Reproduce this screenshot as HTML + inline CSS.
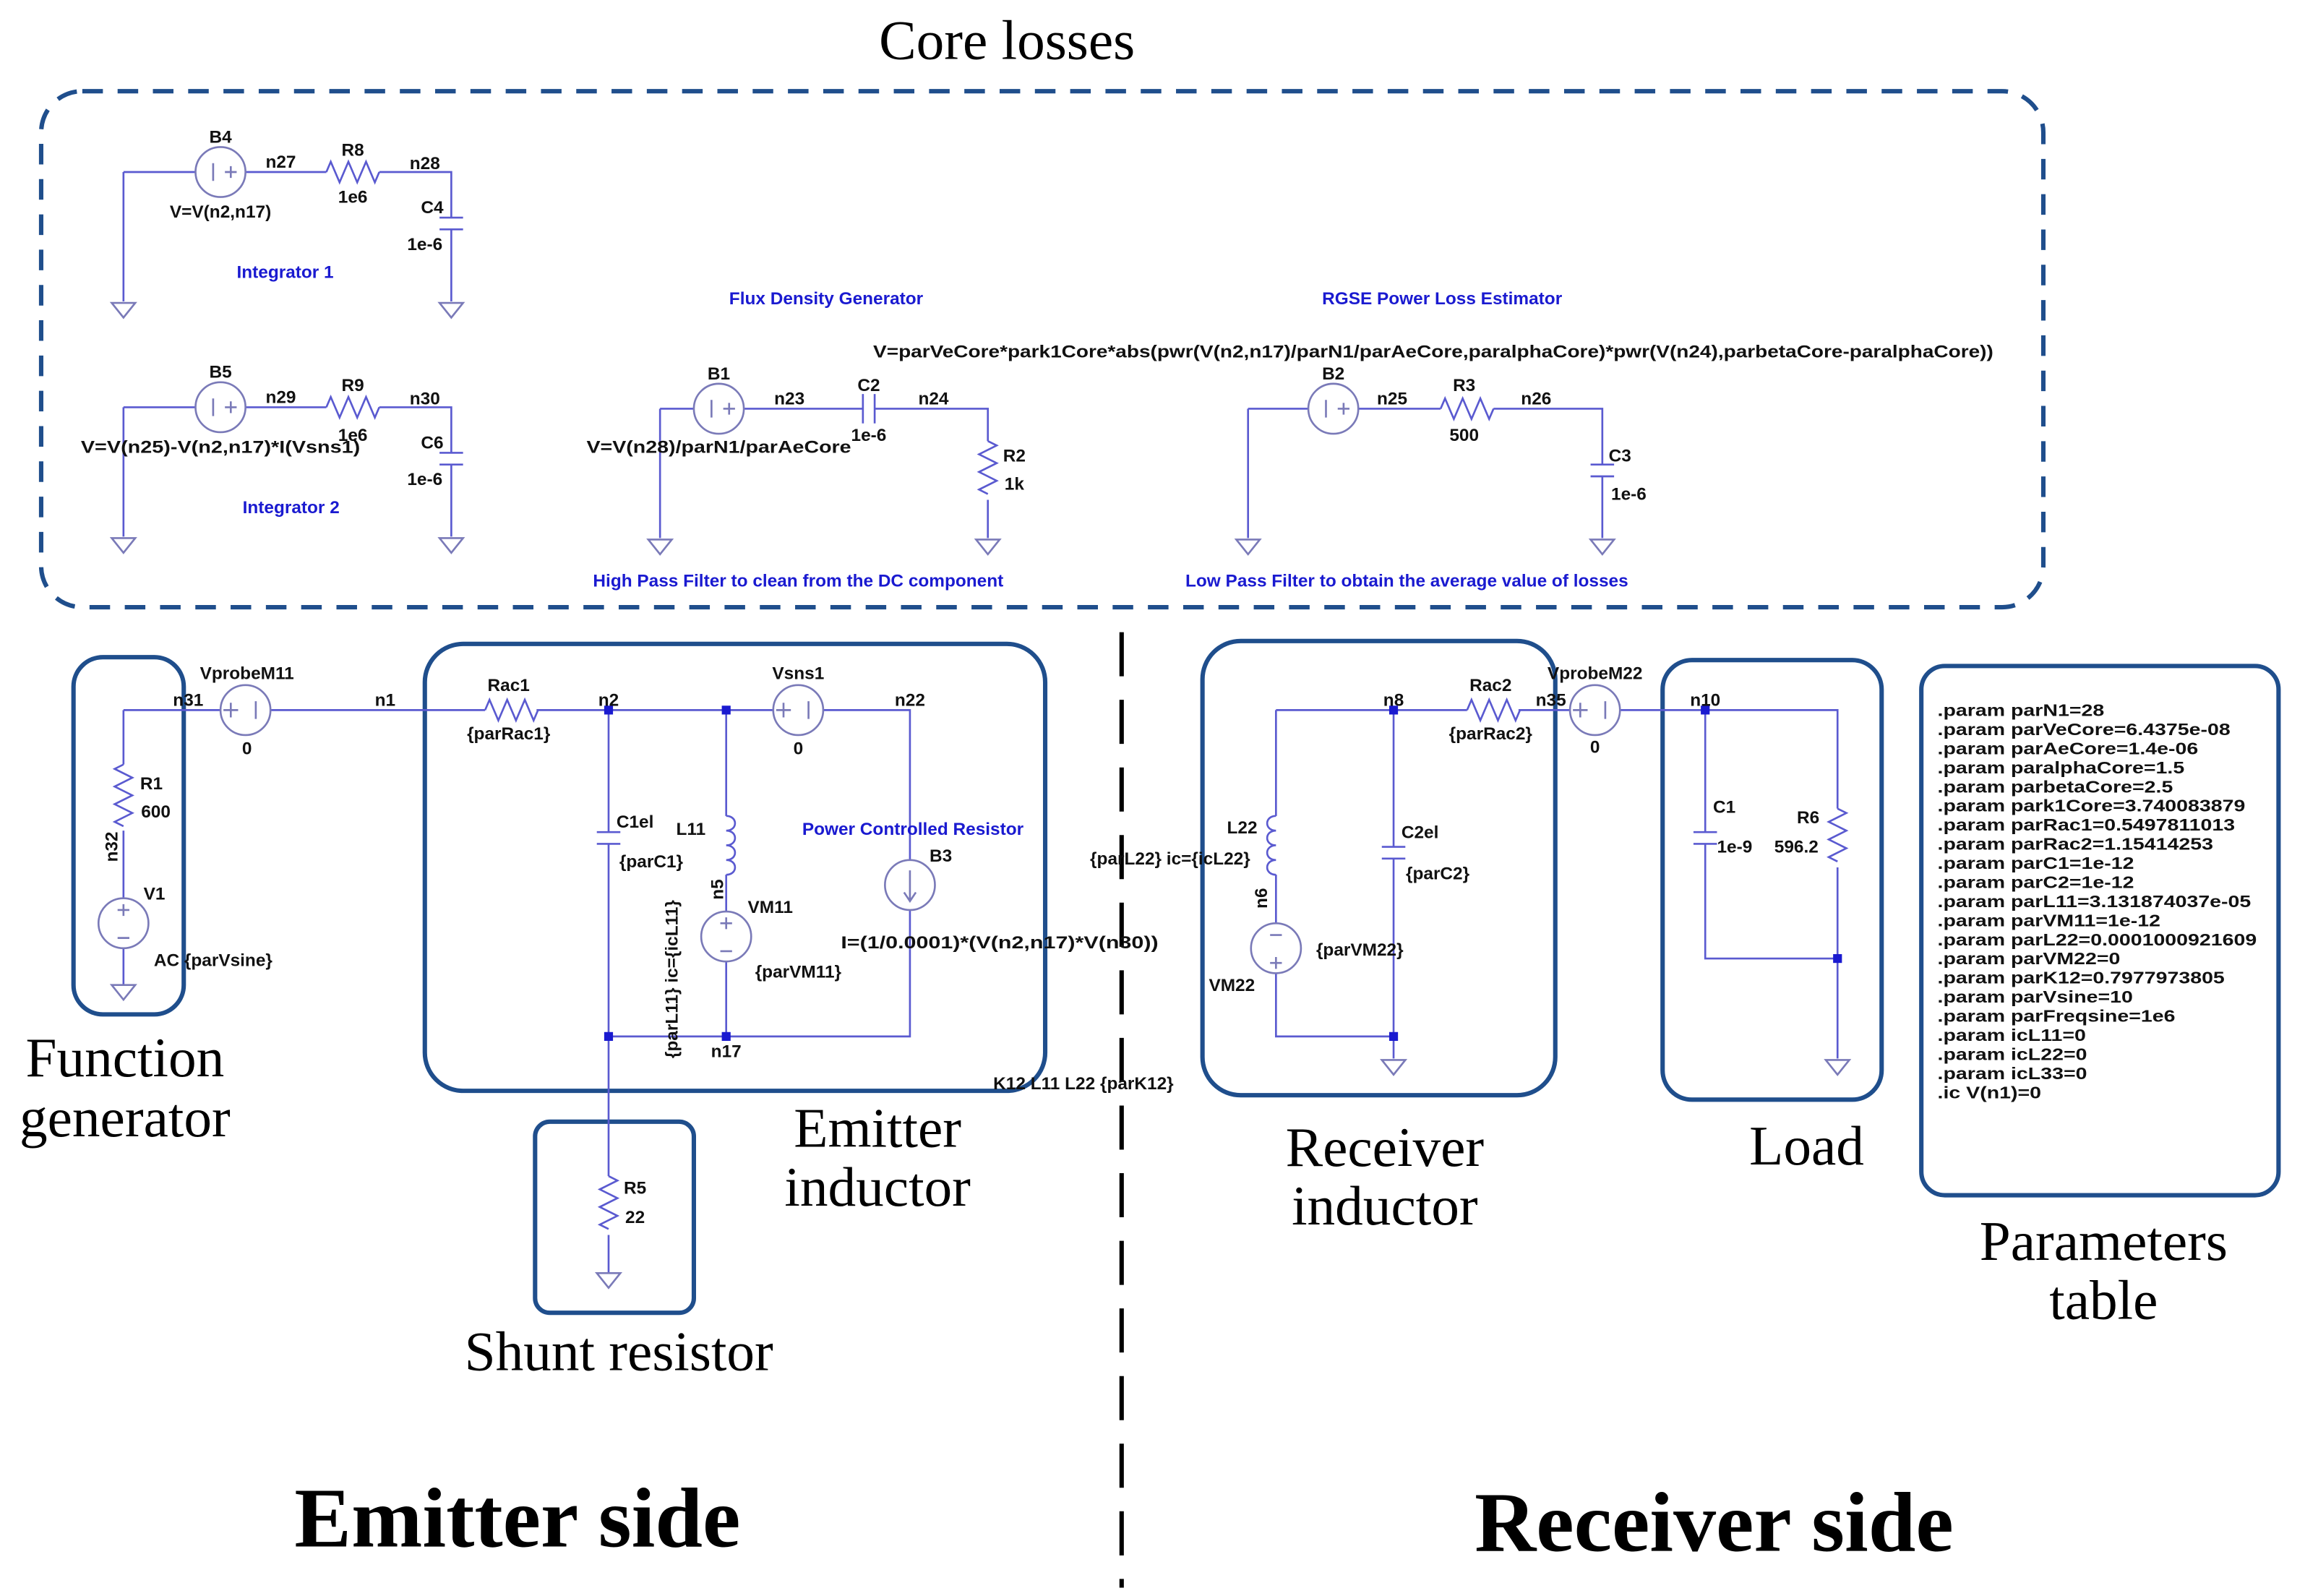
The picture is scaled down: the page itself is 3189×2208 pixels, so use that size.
<!DOCTYPE html>
<html><head><meta charset="utf-8"><style>
html,body{margin:0;padding:0;background:#fff;}
svg{display:block}
.t{font-family:"Liberation Sans",sans-serif;font-size:12px;font-weight:bold;fill:#111;text-anchor:middle}
.b{fill:#1a1ad0}
.p{font-family:"Liberation Sans",sans-serif;font-size:11.5px;font-weight:bold;fill:#111}
.s{font-family:"Liberation Serif",serif;font-size:38px;fill:#000;text-anchor:middle}
.w{stroke:#5a5ad0;stroke-width:1.3;fill:none}
.c{stroke:#7a7ab8;stroke-width:1.3;fill:#fff}
.box{stroke:#1f4e8c;stroke-width:3;fill:none}
</style></head><body>
<svg width="3189" height="2208" viewBox="0 0 1568 1085.6" xmlns="http://www.w3.org/2000/svg">
<defs>
<g id="gnd"><path class="c" d="M-8 0 H8 L0 10 Z"/></g>
<g id="vs"><circle class="c" r="17"/><path class="c" d="M-5 -6V6M7 -4V4M3 0H11" fill="none"/></g>
</defs>
<text class="s" x="685" y="40">Core losses</text>
<rect x="28" y="62" width="1362" height="351" rx="28" fill="none" stroke="#1f4e8c" stroke-width="3" stroke-dasharray="14 10"/>

<!-- Integrator 1 -->
<g>
<path class="w" d="M84 117V205M84 117H133M167 117H222M258 117H307V148M307 156V205"/>
<path class="w" d="M222 117l3 -7 6 14 6 -14 6 14 6 -14 6 14 3 -7"/>
<path class="w" d="M299 148H315M299 156H315"/>
<use href="#vs" x="150" y="117"/>
<use href="#gnd" x="84" y="206"/><use href="#gnd" x="307" y="206"/>
<text class="t" x="150" y="97">B4</text><text class="t" x="191" y="114">n27</text>
<text class="t" x="240" y="106">R8</text><text class="t" x="289" y="115">n28</text>
<text class="t" x="150" y="148">V=V(n2,n17)</text><text class="t" x="240" y="138">1e6</text>
<text class="t" x="294" y="145">C4</text><text class="t" x="289" y="170">1e-6</text>
<text class="t b" x="194" y="189">Integrator 1</text>
</g>
<!-- Integrator 2 -->
<g transform="translate(0,160)">
<path class="w" d="M84 117V205M84 117H133M167 117H222M258 117H307V148M307 156V205"/>
<path class="w" d="M222 117l3 -7 6 14 6 -14 6 14 6 -14 6 14 3 -7"/>
<path class="w" d="M299 148H315M299 156H315"/>
<use href="#vs" x="150" y="117"/>
<use href="#gnd" x="84" y="206"/><use href="#gnd" x="307" y="206"/>
<text class="t" x="150" y="97">B5</text><text class="t" x="191" y="114">n29</text>
<text class="t" x="240" y="106">R9</text><text class="t" x="289" y="115">n30</text>
<text class="t" x="150" y="148" textLength="190" lengthAdjust="spacingAndGlyphs">V=V(n25)-V(n2,n17)*I(Vsns1)</text><text class="t" x="240" y="140">1e6</text>
<text class="t" x="294" y="145">C6</text><text class="t" x="289" y="170">1e-6</text>
<text class="t b" x="198" y="189">Integrator 2</text>
</g>
<!-- Flux density -->
<text class="t b" x="562" y="207">Flux Density Generator</text>
<path class="w" d="M449 278V366M449 278H472M506 278H587M595 278H672V300M672 340V366"/>
<path class="w" d="M587 268V288M595 268V288"/>
<path class="w" d="M672 300l6 3 -12 6 12 6 -12 6 12 6 -12 6 6 3"/>
<use href="#vs" x="489" y="278"/>
<use href="#gnd" x="449" y="367"/><use href="#gnd" x="672" y="367"/>
<text class="t" x="489" y="258">B1</text><text class="t" x="537" y="275">n23</text>
<text class="t" x="591" y="266">C2</text><text class="t" x="635" y="275">n24</text>
<text class="t" x="591" y="300">1e-6</text><text class="t" x="489" y="308" textLength="180" lengthAdjust="spacingAndGlyphs">V=V(n28)/parN1/parAeCore</text>
<text class="t" x="690" y="314">R2</text><text class="t" x="690" y="333">1k</text>
<text class="t b" x="543" y="399">High Pass Filter to clean from the DC component</text>
<!-- RGSE -->
<text class="t b" x="981" y="207">RGSE Power Loss Estimator</text>
<text class="t" x="975" y="243" textLength="762" lengthAdjust="spacingAndGlyphs">V=parVeCore*park1Core*abs(pwr(V(n2,n17)/parN1/parAeCore,paralphaCore)*pwr(V(n24),parbetaCore-paralphaCore))</text>
<path class="w" d="M849 278V366M849 278H890M924 278H980M1016 278H1090V316M1090 324V366"/>
<path class="w" d="M980 278l3 -7 6 14 6 -14 6 14 6 -14 6 14 3 -7"/>
<path class="w" d="M1082 316H1098M1082 324H1098"/>
<use href="#vs" x="907" y="278"/>
<use href="#gnd" x="849" y="367"/><use href="#gnd" x="1090" y="367"/>
<text class="t" x="907" y="258">B2</text><text class="t" x="947" y="275">n25</text>
<text class="t" x="996" y="266">R3</text><text class="t" x="1045" y="275">n26</text>
<text class="t" x="996" y="300">500</text><text class="t" x="1102" y="314">C3</text><text class="t" x="1108" y="340">1e-6</text>
<text class="t b" x="957" y="399">Low Pass Filter to obtain the average value of losses</text>

<!-- divider -->
<path d="M763 430V1080" stroke="#000" stroke-width="3" stroke-dasharray="30 16"/>

<!-- Emitter side -->
<rect class="box" x="50" y="447" width="75" height="243" rx="20"/>
<rect class="box" x="289" y="438" width="422" height="304" rx="26"/>
<rect class="box" x="364" y="763" width="108" height="130" rx="10"/>
<path class="w" d="M84 483V520M84 565V611M84 645V670M84 483H150M184 483H330M365 483H526M560 483H619V585M619 619V705H414M414 483V566M414 574V800M414 840V866M494 483V555M494 595V620M494 654V705"/>
<path class="w" d="M84 520l-6 3 12 6 -12 6 12 6 -12 6 12 6 -12 6 6 3"/>
<path class="w" d="M330 483l3 -7 6 14 6 -14 6 14 6 -14 6 14 3 -7"/>
<path class="w" d="M406 566H422M406 574H422"/>
<path class="w" d="M414 800l6 3 -12 6 12 6 -12 6 12 6 -12 6 6 3"/>
<path class="w" d="M494 555c8 0 8 10 0 10c8 0 8 10 0 10c8 0 8 10 0 10c8 0 8 10 0 10"/>
<g fill="#1a1ad0"><rect x="411" y="480" width="6" height="6"/><rect x="491" y="480" width="6" height="6"/><rect x="411" y="702" width="6" height="6"/><rect x="491" y="702" width="6" height="6"/></g>
<g><circle class="c" cx="167" cy="483" r="17"/><path class="c" d="M152 483H162M157 478V488M174 477V489"/></g>
<g><circle class="c" cx="543" cy="483" r="17"/><path class="c" d="M528 483H538M533 478V488M550 477V489"/></g>
<g><circle class="c" cx="84" cy="628" r="17"/><path class="c" d="M80 619H88M84 615V623M80 638H88"/></g>
<g><circle class="c" cx="494" cy="637" r="17"/><path class="c" d="M490 628H498M494 624V632M490 647H498"/></g>
<g><circle class="c" cx="619" cy="602" r="17"/><path class="c" d="M619 592V612M615 607L619 613L623 607"/></g>
<use href="#gnd" x="84" y="670"/><use href="#gnd" x="414" y="866"/>
<text class="t" x="168" y="462">VprobeM11</text><text class="t" x="128" y="480">n31</text><text class="t" x="168" y="513">0</text>
<text class="t" x="262" y="480">n1</text><text class="t" x="346" y="470">Rac1</text><text class="t" x="346" y="503">{parRac1}</text>
<text class="t" x="414" y="480">n2</text><text class="t" x="543" y="462">Vsns1</text><text class="t" x="543" y="513">0</text>
<text class="t" x="619" y="480">n22</text><text class="t" x="432" y="563">C1el</text><text class="t" x="443" y="590">{parC1}</text>
<text class="t" x="470" y="568">L11</text><text class="t" x="490" y="607" transform="rotate(-90 490 605)">n5</text>
<text class="t" x="524" y="621">VM11</text><text class="t" x="543" y="665">{parVM11}</text>
<text class="t b" x="621" y="568">Power Controlled Resistor</text><text class="t" x="640" y="586">B3</text>
<text class="t" x="680" y="645" textLength="216" lengthAdjust="spacingAndGlyphs">I=(1/0.0001)*(V(n2,n17)*V(n30))</text>
<text class="t" x="465" y="670" transform="rotate(-90 461 670)">{parL11} ic={icL11}</text>
<text class="t" x="494" y="719">n17</text><text class="t" x="737" y="741">K12 L11 L22 {parK12}</text>
<text class="t" x="103" y="537">R1</text><text class="t" x="106" y="556">600</text>
<text class="t" x="82" y="582" transform="rotate(-90 78 580)">n32</text>
<text class="t" x="105" y="612">V1</text><text class="t" x="145" y="657">AC {parVsine}</text>
<text class="t" x="432" y="812">R5</text><text class="t" x="432" y="832">22</text>
<text class="s" x="85" y="732">Function</text><text class="s" x="85" y="773">generator</text>
<text class="s" x="597" y="780">Emitter</text><text class="s" x="597" y="820">inductor</text>
<text class="s" x="421" y="932">Shunt resistor</text>
<text class="s" x="352" y="1052" style="font-size:58px;font-weight:bold">Emitter side</text>

<!-- Receiver side -->
<rect class="box" x="818" y="436" width="240" height="309" rx="26"/>
<rect class="box" x="1131" y="449" width="149" height="299" rx="20"/>
<rect class="box" x="1307" y="453" width="243" height="360" rx="16"/>
<path class="w" d="M868 483V555M868 595V628M868 662V705H948M948 483V576M948 584V720M868 483H998M1033 483H1068M1102 483H1250V550M1250 590V720M1160 483V566M1160 574V652H1250"/>
<path class="w" d="M998 483l3 -7 6 14 6 -14 6 14 6 -14 6 14 3 -7"/>
<path class="w" d="M1250 550l6 3 -12 6 12 6 -12 6 12 6 -12 6 6 3"/>
<path class="w" d="M940 576H956M940 584H956M1152 566H1168M1152 574H1168"/>
<path class="w" d="M868 555c-8 0 -8 10 0 10c-8 0 -8 10 0 10c-8 0 -8 10 0 10c-8 0 -8 10 0 10"/>
<g fill="#1a1ad0"><rect x="945" y="480" width="6" height="6"/><rect x="945" y="702" width="6" height="6"/><rect x="1157" y="480" width="6" height="6"/><rect x="1247" y="649" width="6" height="6"/></g>
<g><circle class="c" cx="1085" cy="483" r="17"/><path class="c" d="M1070 483H1080M1075 478V488M1092 477V489"/></g>
<g><circle class="c" cx="868" cy="645" r="17"/><path class="c" d="M864 636H872M864 655H872M868 651V659"/></g>
<use href="#gnd" x="948" y="721"/><use href="#gnd" x="1250" y="721"/>
<text class="t" x="845" y="567">L22</text><text class="t" x="796" y="588">{parL22} ic={icL22}</text>
<text class="t" x="864" y="617" transform="rotate(-90 860 615)">n6</text>
<text class="t" x="925" y="650">{parVM22}</text><text class="t" x="838" y="674">VM22</text>
<text class="t" x="966" y="570">C2el</text><text class="t" x="978" y="598">{parC2}</text>
<text class="t" x="948" y="480">n8</text><text class="t" x="1014" y="470">Rac2</text><text class="t" x="1014" y="503">{parRac2}</text>
<text class="t" x="1055" y="480">n35</text><text class="t" x="1085" y="462">VprobeM22</text><text class="t" x="1085" y="512">0</text>
<text class="t" x="1160" y="480">n10</text><text class="t" x="1173" y="553">C1</text><text class="t" x="1180" y="580">1e-9</text>
<text class="t" x="1230" y="560">R6</text><text class="t" x="1222" y="580">596.2</text>
<text class="s" x="942" y="793">Receiver</text><text class="s" x="942" y="833">inductor</text>
<text class="s" x="1229" y="792">Load</text>
<text class="s" x="1431" y="857">Parameters</text><text class="s" x="1431" y="897">table</text>
<text class="s" x="1166" y="1055" style="font-size:58px;font-weight:bold">Receiver side</text>

<g class="p" transform="translate(1318,0) scale(1.22,1)">
<text x="0" y="487">.param parN1=28</text>
<text x="0" y="500">.param parVeCore=6.4375e-08</text>
<text x="0" y="513">.param parAeCore=1.4e-06</text>
<text x="0" y="526">.param paralphaCore=1.5</text>
<text x="0" y="539">.param parbetaCore=2.5</text>
<text x="0" y="552">.param park1Core=3.740083879</text>
<text x="0" y="565">.param parRac1=0.5497811013</text>
<text x="0" y="578">.param parRac2=1.15414253</text>
<text x="0" y="591">.param parC1=1e-12</text>
<text x="0" y="604">.param parC2=1e-12</text>
<text x="0" y="617">.param parL11=3.131874037e-05</text>
<text x="0" y="630">.param parVM11=1e-12</text>
<text x="0" y="643">.param parL22=0.0001000921609</text>
<text x="0" y="656">.param parVM22=0</text>
<text x="0" y="669">.param parK12=0.7977973805</text>
<text x="0" y="682">.param parVsine=10</text>
<text x="0" y="695">.param parFreqsine=1e6</text>
<text x="0" y="708">.param icL11=0</text>
<text x="0" y="721">.param icL22=0</text>
<text x="0" y="734">.param icL33=0</text>
<text x="0" y="747">.ic V(n1)=0</text>
</g>
</svg>
</body></html>
